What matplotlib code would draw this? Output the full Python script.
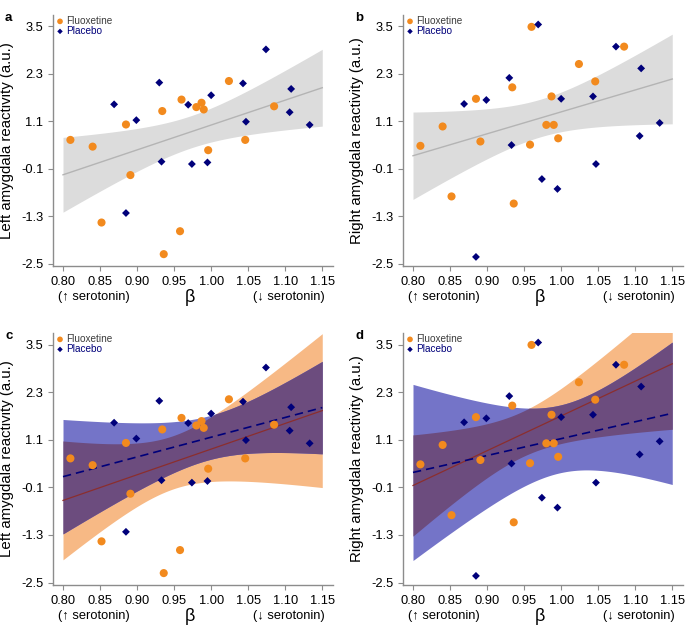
import numpy as np
import matplotlib
matplotlib.use("Agg")
import matplotlib.pyplot as plt

plt.rcParams['font.family'] = ['Liberation Sans', 'DejaVu Sans']
plt.rcParams['axes.unicode_minus'] = False

# beta values (x) and amygdala reactivity (y)
flx_beta = [0.810, 0.840, 0.852, 0.885, 0.891, 0.934, 0.936, 0.960, 0.958,
            0.980, 0.987, 0.990, 0.996, 1.024, 1.046, 1.085]
flx_left = [0.63, 0.46, -1.46, 1.02, -0.26, 1.36, -2.26, 1.65, -1.68,
            1.46, 1.57, 1.40, 0.37, 2.12, 0.63, 1.48]
flx_right = [0.48, 0.97, -0.80, 1.67, 0.59, 1.96, -0.98, 3.49, 0.51,
             1.01, 1.73, 1.01, 0.67, 2.55, 2.11, 2.99]

plc_beta = [0.869, 0.885, 0.899, 0.930, 0.933, 0.969, 0.974, 0.995, 1.000,
            1.043, 1.047, 1.074, 1.108, 1.106, 1.133]
plc_left = [1.53, -1.22, 1.13, 2.08, 0.08, 1.52, 0.02, 0.06, 1.76,
            2.06, 1.09, 2.92, 1.92, 1.33, 1.01]
plc_right = [1.54, -2.33, 1.64, 2.20, 0.50, 3.55, -0.36, -0.61, 1.67,
             1.73, 0.02, 2.99, 2.44, 0.73, 1.06]

xticks = [0.80, 0.85, 0.90, 0.95, 1.00, 1.05, 1.10, 1.15]
yticks = [-2.5, -1.3, -0.1, 1.1, 2.3, 3.5]

ORANGE = '#F28A1E'
NAVY = '#00007A'
GREY_BAND = '#DCDCDC'
GREY_LINE = '#B4B4B4'
OR_BAND = '#F7B985'
BL_BAND = '#7474C8'
OVERLAP = '#6C4C7E'


def fit_band(x, y, grid, tcrit):
    # ordinary least squares with 95% confidence band of the mean
    x = np.asarray(x)
    y = np.asarray(y)
    n = len(x)
    b, a = np.polyfit(x, y, 1)
    resid = y - (a + b * x)
    s = np.sqrt(np.sum(resid ** 2) / (n - 2))
    sxx = np.sum((x - x.mean()) ** 2)
    pred = a + b * grid
    se = s * np.sqrt(1.0 / n + (grid - x.mean()) ** 2 / sxx)
    return pred, pred - tcrit * se, pred + tcrit * se


def style_axes(ax, ylabel):
    ax.set_xlim(0.7865, 1.1645)
    ax.set_ylim(-2.56, 3.79)
    ax.set_xticks(xticks)
    ax.set_xticklabels(['%.2f' % t for t in xticks])
    ax.set_yticks(yticks)
    ax.set_yticklabels(['%.1f' % t for t in yticks])
    for side in ['top', 'right']:
        ax.spines[side].set_visible(False)
    for side in ['left', 'bottom']:
        ax.spines[side].set_color('#8C8C8C')
        ax.spines[side].set_linewidth(1.0)
    ax.tick_params(colors='#8C8C8C', labelcolor='black', labelsize=9.3,
                   length=3.5, width=0.8)
    ax.set_ylabel(ylabel, fontsize=10.8, labelpad=5)
    ax.annotate('(\u2191 serotonin)', xy=(0.842, 0), xycoords=('data', 'axes fraction'),
                xytext=(0, -22), textcoords='offset points', ha='center', va='center',
                fontsize=9.3)
    ax.annotate('(\u2193 serotonin)', xy=(1.105, 0), xycoords=('data', 'axes fraction'),
                xytext=(0, -22), textcoords='offset points', ha='center', va='center',
                fontsize=9.3)
    ax.annotate('\u03b2', xy=(0.971, 0), xycoords=('data', 'axes fraction'),
                xytext=(0, -23), textcoords='offset points', ha='center', va='center',
                fontsize=13)


def draw_points(ax, yf, yp):
    ax.scatter(flx_beta, yf, s=34, color=ORANGE, edgecolors='none', zorder=5,
               label='Fluoxetine')
    ax.scatter(plc_beta, yp, s=16, marker='D', color=NAVY, edgecolors='none',
               zorder=6, label='Placebo')
    ax.legend(loc='upper left', bbox_to_anchor=(0.0, 1.0), frameon=False,
              fontsize=7.2, handletextpad=0.0, borderaxespad=0.0, borderpad=0.1,
              labelspacing=0.0, handlelength=1.2, markerscale=0.7,
              labelcolor=['#3C3C3C', NAVY])


grid = np.linspace(0.80, 1.15, 300)

fig = plt.figure(figsize=(6.85, 6.32), dpi=100)
W, H = 685.0, 632.0
boxes = {'a': (53, 15, 280, 251), 'b': (403, 15, 280, 251),
         'c': (53, 333, 280, 252), 'd': (403, 333, 280, 252)}
axes = {}
for key, (l, t, w, h) in boxes.items():
    axes[key] = fig.add_axes([l / W, 1 - (t + h) / H, w / W, h / H])

# pooled fits (a, b)
for key, yf, yp, lab in [('a', flx_left, plc_left, 'Left amygdala reactivity (a.u.)'),
                         ('b', flx_right, plc_right, 'Right amygdala reactivity (a.u.)')]:
    ax = axes[key]
    pred, lo, hi = fit_band(flx_beta + plc_beta, yf + yp, grid, 2.045)
    ax.fill_between(grid, lo, hi, color=GREY_BAND, lw=0, zorder=1)
    ax.plot(grid, pred, color=GREY_LINE, lw=1.0, zorder=2)
    draw_points(ax, yf, yp)
    style_axes(ax, lab)

# separate fits per group (c, d)
for key, yf, yp, lab in [('c', flx_left, plc_left, 'Left amygdala reactivity (a.u.)'),
                         ('d', flx_right, plc_right, 'Right amygdala reactivity (a.u.)')]:
    ax = axes[key]
    pf, lf, hf = fit_band(flx_beta, yf, grid, 2.145)
    pp, lp, hp = fit_band(plc_beta, yp, grid, 2.160)
    ax.fill_between(grid, lf, hf, color=OR_BAND, lw=0, zorder=1)
    ax.fill_between(grid, lp, hp, color=BL_BAND, lw=0, zorder=2)
    lo = np.maximum(lf, lp)
    hi = np.minimum(hf, hp)
    ax.fill_between(grid, lo, hi, where=hi > lo, color=OVERLAP, lw=0, zorder=3)
    ax.plot(grid, pf, color='#8B2E2E', lw=0.9, zorder=4)
    ax.plot(grid, pp, color=NAVY, lw=1.2, ls=(0, (5, 3)), zorder=4)
    draw_points(ax, yf, yp)
    style_axes(ax, lab)

for key, (l, t, w, h) in boxes.items():
    fig.text((l - 48) / W, 1 - (t - 3) / H, key, fontsize=9.5, fontweight='bold',
             ha='left', va='top')

fig.savefig('out.png', dpi=100)
